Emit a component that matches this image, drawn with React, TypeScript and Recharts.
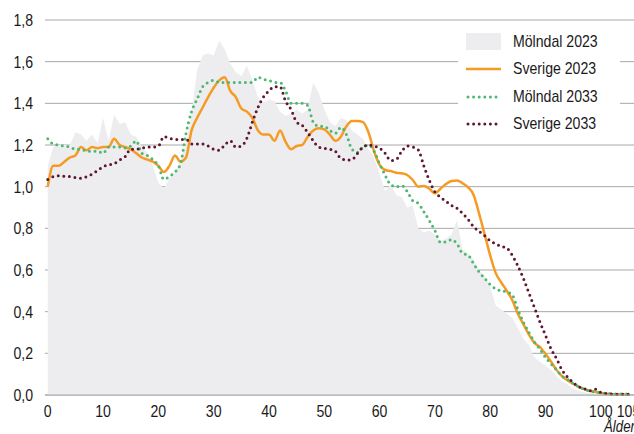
import { ComposedChart, Area, Line, XAxis, YAxis, CartesianGrid, Legend } from 'recharts';

// Age 0..105
const ages = Array.from({ length: 106 }, (_, i) => i);

const molndal2023 = [
  1.10, 1.19, 1.20, 1.20, 1.20, 1.26, 1.25, 1.22, 1.25, 1.21,
  1.33, 1.22, 1.345, 1.30, 1.31, 1.25, 1.24, 1.19, 1.16, 1.10,
  1.02, 0.99, 1.04, 1.07, 1.13, 1.20, 1.35, 1.56, 1.63, 1.64,
  1.63, 1.70, 1.66, 1.59, 1.55, 1.53, 1.58, 1.51, 1.43, 1.40,
  1.42, 1.41, 1.36, 1.34, 1.35, 1.37, 1.35, 1.37, 1.50, 1.45,
  1.37, 1.31, 1.29, 1.33, 1.32, 1.27, 1.25, 1.23, 1.18, 1.14,
  1.06, 0.98, 1.01, 0.96, 0.95, 0.90, 0.91, 0.80, 0.78, 0.79,
  0.77, 0.74, 0.75, 0.77, 0.84, 0.70, 0.68, 0.65, 0.60, 0.57,
  0.52, 0.43, 0.41, 0.39, 0.37, 0.32, 0.27, 0.24, 0.18, 0.16,
  0.14, 0.12, 0.09, 0.065, 0.05, 0.03, 0.02, 0.013, 0.01, 0.007,
  0.006, 0.004, 0.003, 0.002, 0.001, 0.0,
];

const sverige2023 = [
  1.00, 1.10, 1.10, 1.12, 1.14, 1.15, 1.19, 1.175, 1.19, 1.185,
  1.19, 1.19, 1.23, 1.20, 1.19, 1.18, 1.16, 1.14, 1.13, 1.12,
  1.10, 1.07, 1.10, 1.15, 1.12, 1.14, 1.27, 1.33, 1.38, 1.43,
  1.475, 1.51, 1.525, 1.46, 1.43, 1.375, 1.36, 1.33, 1.27, 1.25,
  1.25, 1.22, 1.27, 1.215, 1.18, 1.195, 1.20, 1.24, 1.27, 1.28,
  1.275, 1.25, 1.22, 1.24, 1.29, 1.315, 1.315, 1.31, 1.26, 1.17,
  1.105, 1.08, 1.075, 1.067, 1.064, 1.056, 1.032, 1.00, 1.003, 0.99,
  0.968, 0.99, 1.013, 1.027, 1.03, 1.016, 0.997, 0.96, 0.87, 0.77,
  0.67, 0.585, 0.54, 0.50, 0.455, 0.39, 0.34, 0.29, 0.25, 0.23,
  0.198, 0.16, 0.12, 0.09, 0.07, 0.054, 0.04, 0.028, 0.02, 0.015,
  0.01, 0.006, 0.004, 0.003, 0.002, 0.001,
];

const molndal2033 = [
  1.23, 1.205, 1.20, 1.195, 1.19, 1.18, 1.18, 1.17, 1.17, 1.17,
  1.16, 1.19, 1.19, 1.19, 1.185, 1.195, 1.22, 1.16, 1.15, 1.13,
  1.10, 1.035, 1.05, 1.07, 1.11, 1.256, 1.36, 1.42, 1.48, 1.50,
  1.51, 1.50, 1.50, 1.50, 1.50, 1.50, 1.50, 1.50, 1.525, 1.515,
  1.51, 1.50, 1.50, 1.46, 1.40, 1.40, 1.40, 1.39, 1.31, 1.29,
  1.29, 1.27, 1.256, 1.285, 1.25, 1.18, 1.165, 1.19, 1.20, 1.17,
  1.11, 1.055, 1.01, 1.00, 1.005, 0.976, 0.933, 0.92, 0.88, 0.837,
  0.79, 0.733, 0.735, 0.746, 0.725, 0.68, 0.672, 0.63, 0.59, 0.56,
  0.53, 0.51, 0.50, 0.495, 0.48, 0.41, 0.35, 0.30, 0.255, 0.22,
  0.18, 0.15, 0.12, 0.09, 0.075, 0.055, 0.04, 0.028, 0.018, 0.014,
  0.01, 0.008, 0.006, 0.005, 0.005, 0.005,
];

const sverige2033 = [
  1.035, 1.048, 1.053, 1.05, 1.048, 1.043, 1.04, 1.048, 1.06, 1.077,
  1.096, 1.104, 1.11, 1.128, 1.144, 1.18, 1.18, 1.184, 1.19, 1.19,
  1.195, 1.24, 1.232, 1.227, 1.227, 1.227, 1.205, 1.205, 1.205, 1.195,
  1.18, 1.175, 1.20, 1.22, 1.19, 1.195, 1.232, 1.31, 1.38, 1.43,
  1.46, 1.48, 1.48, 1.41, 1.37, 1.31, 1.295, 1.26, 1.22, 1.19,
  1.184, 1.18, 1.17, 1.135, 1.128, 1.13, 1.16, 1.19, 1.20, 1.195,
  1.185, 1.16, 1.125, 1.13, 1.17, 1.195, 1.19, 1.176, 1.10, 1.03,
  0.975, 0.95, 0.93, 0.91, 0.896, 0.872, 0.843, 0.808, 0.785, 0.765,
  0.74, 0.725, 0.713, 0.705, 0.67, 0.62, 0.56, 0.49, 0.42, 0.35,
  0.286, 0.222, 0.174, 0.12, 0.086, 0.06, 0.04, 0.03, 0.02, 0.028,
  0.012, 0.007, 0.005, 0.004, 0.004, 0.004,
];

const xTicks = [0, 10, 20, 30, 40, 50, 60, 70, 80, 90, 100, 105];
const yTicks = [0, 0.2, 0.4, 0.6, 0.8, 1.0, 1.2, 1.4, 1.6, 1.8];

const FONT = '"Liberation Sans", Arial, sans-serif';
const TEXT = '#1a1a1a';
const NARROW = 0.83; // the original uses a narrow face
const GRAY = '#EDEDF0';
const ORANGE = '#F59B23';
const GREEN = '#4CB872';
const DARKRED = '#5E1730';

const data = ages.map((age, i) => ({
  age,
  m23: molndal2023[i],
  s23: sverige2023[i],
  m33: molndal2033[i],
  s33: sverige2033[i],
}));

const legendItems = [
  { name: 'Mölndal 2023', kind: 'box', color: GRAY },
  { name: 'Sverige 2023', kind: 'line', color: ORANGE },
  { name: 'Mölndal 2033', kind: 'dots', color: GREEN },
  { name: 'Sverige 2033', kind: 'dots', color: DARKRED },
];

function ChartLegend() {
  return (
    <div style={{ background: '#fff', padding: '4px 0 6px 8px', width: 154 }}>
      {legendItems.map(item => (
        <div key={item.name} style={{ display: 'flex', alignItems: 'center', height: 27.5 }}>
          <svg width={36} height={18} style={{ marginRight: 11 }}>
            {item.kind === 'box' && <rect x={0} y={0} width={35} height={17} fill={item.color} />}
            {item.kind === 'line' && <line x1={0} y1={9} x2={35} y2={9} stroke={item.color} strokeWidth={2.5} />}
            {item.kind === 'dots' && (
              <line x1={2} y1={9} x2={35} y2={9} stroke={item.color} strokeWidth={3}
                strokeDasharray="0 5.6" strokeLinecap="round" />
            )}
          </svg>
          <span style={{
            fontSize: 17, color: TEXT, fontFamily: FONT, display: 'inline-block',
            transform: `scaleX(${NARROW})`, transformOrigin: 'left center', whiteSpace: 'nowrap',
          }}>{item.name}</span>
        </div>
      ))}
    </div>
  );
}

const fmt = (v: number) => v.toFixed(1).replace('.', ',');

function XTick({ x, y, payload }: any) {
  return (
    <g transform={`translate(${x},${y})`}>
      <text transform={`scale(${NARROW},1)`} textAnchor="middle" dy="0.71em" fontSize={17} fill={TEXT} fontFamily={FONT}>
        {payload.value}
      </text>
    </g>
  );
}

function YTick({ x, y, payload }: any) {
  return (
    <g transform={`translate(${x},${y})`}>
      <text transform={`scale(${NARROW},1)`} textAnchor="end" dy="0.355em" fontSize={17} fill={TEXT} fontFamily={FONT}>
        {fmt(payload.value)}
      </text>
    </g>
  );
}

export default function App() {
  return (
    <div style={{ position: 'absolute', left: 0, top: 0, width: 634, height: 434, fontFamily: FONT, background: '#fff', overflow: 'hidden' }}>
      <ComposedChart width={634} height={434} data={data} margin={{ top: 20, right: 0, left: 0, bottom: 9 }}>
        <CartesianGrid horizontal vertical={false} stroke="#A8A8A8" strokeWidth={1} />
        <XAxis
          dataKey="age"
          type="number"
          domain={[-0.5, 106]}
          ticks={xTicks}
          interval={0}
          height={30}
          tickSize={0}
          tickMargin={10}
          axisLine={{ stroke: '#A8A8A8' }}
          tick={<XTick />}
        />
        <YAxis
          type="number"
          domain={[0, 1.8]}
          ticks={yTicks}
          width={45}
          tickSize={0}
          tickMargin={12}
          axisLine={false}
          tick={<YTick />}
        />
        <Legend
          layout="horizontal"
          verticalAlign="middle"
          align="center"
          content={() => <ChartLegend />}
          wrapperStyle={{ position: 'absolute', left: 458, top: 24, width: 162 }}
        />
        <Area type="linear" dataKey="m23" name="Mölndal 2023" fill={GRAY} fillOpacity={1} stroke="none" isAnimationActive={false} />
        <Line type="monotone" dataKey="s23" name="Sverige 2023" stroke={ORANGE} strokeWidth={2.5} dot={false} isAnimationActive={false} />
        <Line type="monotone" dataKey="m33" name="Mölndal 2033" stroke={GREEN} strokeWidth={3} strokeDasharray="0 5.6" strokeLinecap="round" dot={false} isAnimationActive={false} />
        <Line type="monotone" dataKey="s33" name="Sverige 2033" stroke={DARKRED} strokeWidth={3} strokeDasharray="0 5.6" strokeLinecap="round" dot={false} isAnimationActive={false} />
      </ComposedChart>
      <span style={{
        position: 'absolute', left: 604, top: 419, fontSize: 16, lineHeight: '16px', fontStyle: 'italic', color: TEXT,
        whiteSpace: 'nowrap', display: 'inline-block', transform: `scaleX(${NARROW})`, transformOrigin: 'left center',
      }}>Ålder</span>
    </div>
  );
}
